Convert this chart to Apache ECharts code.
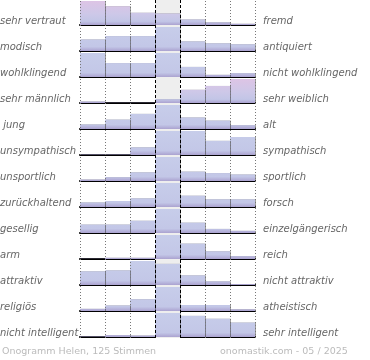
<!DOCTYPE html>
<html><head><meta charset="utf-8">
<script src="https://cdn.jsdelivr.net/npm/echarts@6/dist/echarts.min.js"></script>
<style>html,body{margin:0;padding:0;background:#fff}#c{width:370px;height:360px}</style>
</head><body><div id="c"></div>
<script>
const columns = ['1','2','3','4','5','6','7'];
const leftLabels = ['sehr vertraut','modisch','wohlklingend','sehr männlich',' jung','unsympathisch','unsportlich','zurückhaltend','gesellig','arm','attraktiv','religiös','nicht intelligent'];
const rightLabels = ['fremd','antiquiert','nicht wohlklingend','sehr weiblich','alt','sympathisch','sportlich','forsch','einzelgängerisch','reich','nicht attraktiv','atheistisch','sehr intelligent'];
const rowVertraut    = [100, 78, 51, 48, 23, 11, 5];
const rowModisch     = [48, 62, 62, 100, 40, 32, 28];
const rowWohlklingend= [100, 58, 58, 100, 42, 9, 16];
const rowMaennlich   = [6, 1, 1, 16, 55, 71, 100];
const rowJung        = [19, 39, 63, 100, 48, 35, 16];
const rowSympathisch = [2, 2, 32, 100, 100, 59, 75];
const rowSportlich   = [6, 16, 36, 100, 39, 33, 27];
const rowForsch      = [19, 25, 36, 100, 47, 32, 32];
const rowGesellig    = [35, 35, 51, 100, 43, 17, 9];
const rowArm         = [1, 5, 5, 100, 64, 32, 12];
const rowAttraktiv   = [57, 61, 100, 88, 40, 15, 4];
const rowReligioes   = [9, 23, 49, 100, 25, 25, 7];
const rowIntelligent = [2, 8, 6, 100, 88, 76, 60];
const footerLeft = 'Onogramm Helen, 125 Stimmen';
const footerRight = 'onomastik.com - 05 / 2025';

const rows = [rowVertraut,rowModisch,rowWohlklingend,rowMaennlich,rowJung,rowSympathisch,rowSportlich,rowForsch,rowGesellig,rowArm,rowAttraktiv,rowReligioes,rowIntelligent];
const pinkRows = [0, 3];
const PLOT_L = 80, PLOT_W = 175, PITCH = 26;

const grids = [], xAxes = [], yAxes = [], series = [], graphics = [];
grids.push({left: PLOT_L, width: PLOT_W, top: 0, height: 338});
xAxes.push({type:'value', gridIndex:0, min:0, max:7, show:false});
yAxes.push({type:'value', gridIndex:0, min:0, max:1, show:false});
const dotted = [0,1,2,5,6,7].map(v => ({xAxis: v}));
series.push({type:'line', xAxisIndex:0, yAxisIndex:0, data:[[0,0]], symbol:'none', lineStyle:{opacity:0}, silent:true, z:0,
  markArea:{silent:true, itemStyle:{color:'#eeeeee'}, data:[[{xAxis:3},{xAxis:4}]]},
  markLine:{silent:true, symbol:'none', label:{show:false}, lineStyle:{color:'#777', type:[1,2], width:1}, data: dotted}
});
series.push({type:'line', xAxisIndex:0, yAxisIndex:0, data:[[0,0]], symbol:'none', lineStyle:{opacity:0}, silent:true, z:10,
  markLine:{silent:true, symbol:'none', label:{show:false}, lineStyle:{color:'#000', type:[3,2], width:1}, data:[{xAxis:3},{xAxis:4}]}
});

rows.forEach((vals, i) => {
  const gi = i + 1;
  const top = PITCH * i + 1;
  grids.push({left: PLOT_L, width: PLOT_W, top: top, height: 24});
  xAxes.push({type:'category', gridIndex: gi, data: columns.slice().reverse(), inverse: true,
    axisLine:{show:true, lineStyle:{color:'#000', width:2}}, axisTick:{show:false}, axisLabel:{show:false}});
  yAxes.push({type:'value', gridIndex: gi, min:0, max:100, show:false});
  const pink = pinkRows.includes(i);
  const grad = {type:'linear', x:0, y:top, x2:0, y2:top+24, global:true,
    colorStops: pink ? [{offset:0,color:'#ddc4e5'},{offset:0.55,color:'#cdc8e8'},{offset:0.85,color:'#c2c5e6'},{offset:1,color:'#aba2d0'}]
                     : [{offset:0,color:'#c7cdea'},{offset:0.82,color:'#c3c7e7'},{offset:1,color:'#aba2d0'}]};
  series.push({type:'bar', xAxisIndex: gi, yAxisIndex: gi, data: vals.slice().reverse(),
    barWidth:'100%', barCategoryGap:0, silent:true, z:2,
    itemStyle:{color: grad, shadowColor:'rgba(0,0,0,0.38)', shadowOffsetX:1, shadowOffsetY:0, shadowBlur:0}});
  const cy = PITCH * i + 20;
  graphics.push({type:'text', left:0, top: cy-4, style:{text: leftLabels[i], fill:'#666', font:'italic 10px "DejaVu Sans"'}});
  graphics.push({type:'text', left:263, top: cy-4, style:{text: rightLabels[i], fill:'#666', font:'italic 10px "DejaVu Sans"'}});
});
graphics.push({type:'text', left:2, top:347, style:{text: footerLeft, fill:'#bbb', font:'9.5px "DejaVu Sans"'}});
graphics.push({type:'text', left:220, top:347, style:{text: footerRight, fill:'#bbb', font:'9.5px "DejaVu Sans"'}});

const chart = echarts.init(document.getElementById('c'), null, {renderer:'canvas'});
chart.setOption({animation:false, grid: grids, xAxis: xAxes, yAxis: yAxes, series: series, graphic: graphics});
</script></body></html>
